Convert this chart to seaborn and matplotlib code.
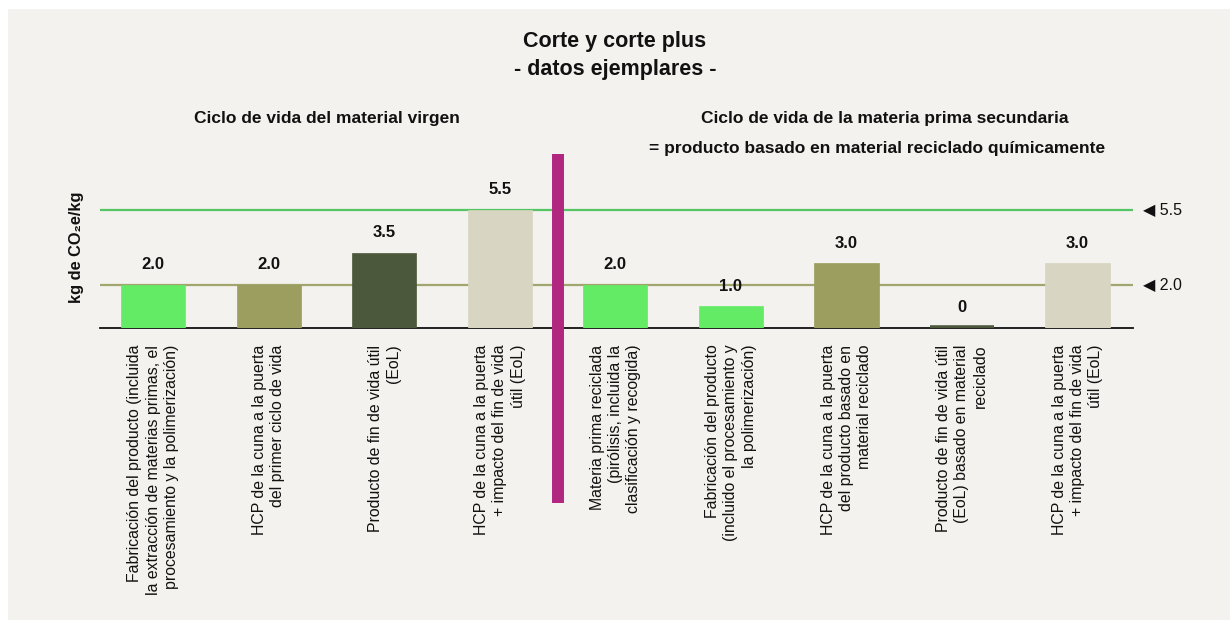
import matplotlib
matplotlib.use("Agg")
import matplotlib.pyplot as plt
from matplotlib.patches import Rectangle
import seaborn as sns
import pandas as pd

# datos
etapas = [
    "Fabricación del producto (incluida\nla extracción de materias primas, el\nprocesamiento y la polimerización)",
    "HCP de la cuna a la puerta\ndel primer ciclo de vida",
    "Producto de fin de vida útil\n(EoL)",
    "HCP de la cuna a la puerta\n+ impacto del fin de vida\nútil (EoL)",
    "Materia prima reciclada\n(pirólisis, incluida la\nclasificación y recogida)",
    "Fabricación del producto\n(incluido el procesamiento y\nla polimerización)",
    "HCP de la cuna a la puerta\ndel producto basado en\nmaterial reciclado",
    "Producto de fin de vida útil\n(EoL) basado en material\nreciclado",
    "HCP de la cuna a la puerta\n+ impacto del fin de vida\nútil (EoL)",
]
valores = [2.0, 2.0, 3.5, 5.5, 2.0, 1.0, 3.0, 0, 3.0]
etiquetas = ["2.0", "2.0", "3.5", "5.5", "2.0", "1.0", "3.0", "0", "3.0"]
colores = ["#63eb65", "#9b9e5f", "#4b583c", "#d9d5c3",
           "#63eb65", "#63eb65", "#9b9e5f", "#4b583c", "#d9d5c3"]
referencias = [5.5, 2.0]
color_ref = ["#55c564", "#a3a56f"]

fondo = "#f3f2ee"
sns.set_theme(style="white")
plt.rcParams["font.family"] = ["Liberation Sans", "DejaVu Sans"]

fig = plt.figure(figsize=(12.3, 6.2), dpi=100, facecolor="white")
fig.patches.append(Rectangle((8 / 1230, 0), 1, 1 - 9 / 620, transform=fig.transFigure,
                             facecolor=fondo, edgecolor="none", zorder=-10))

ax = fig.add_axes([100 / 1230, 1 - 328 / 620, 1033 / 1230, 174 / 620])
ax.set_facecolor(fondo)
ax.patch.set_alpha(0)

df = pd.DataFrame({"etapa": range(len(valores)), "valor": valores})

for v, c in zip(referencias, color_ref):
    ax.axhline(v, color=c, lw=1.6, zorder=0)
    ax.annotate("\u25c0 " + f"{v:.1f}", xy=(1, v), xycoords=("axes fraction", "data"),
                xytext=(7, 0), textcoords="offset points", va="center", ha="left",
                fontsize=11.5, color="#111111")

sns.barplot(data=df, x="etapa", y="valor", hue="etapa", palette=colores,
            saturation=1, legend=False, width=0.555, ax=ax, zorder=2)
for p, c, v in zip(ax.patches, colores, valores):
    p.set_edgecolor(c)
    p.set_linewidth(4 if v == 0 else 0.5)

for i, (v, t) in enumerate(zip(valores, etiquetas)):
    ax.annotate(t, xy=(i, v), xytext=(0, 9), textcoords="offset points",
                ha="center", va="bottom", fontsize=12, fontweight="bold", color="#111111")

ax.set_xlim(-0.46, 8.48)
ax.set_ylim(0, 8.09)
ax.set_xticks(range(len(etapas)))
ax.set_xticklabels(etapas, rotation=90, ha="center", va="top", ma="right",
                   fontsize=11.4, linespacing=1.27, color="#111111")
ax.tick_params(axis="x", length=0, pad=12)
ax.set_yticks([])
ax.set_xlabel("")
ax.set_ylabel("")
for s in ["top", "left", "right"]:
    ax.spines[s].set_visible(False)
ax.spines["bottom"].set_color("#111111")
ax.spines["bottom"].set_linewidth(1.3)
ax.spines["bottom"].set_zorder(1)

# separador entre ciclos
ax.axvline(3.5, ymin=-1.006, ymax=1.0, color="#b1267f", lw=8.6,
           solid_capstyle="butt", clip_on=False, zorder=4)

fig.text(615 / 1230, 1 - 41 / 620, "Corte y corte plus", ha="center", va="center",
         fontsize=15.5, fontweight="bold", color="#111111")
fig.text(615 / 1230, 1 - 70 / 620, "- datos ejemplares -", ha="center", va="center",
         fontsize=15.5, fontweight="bold", color="#111111")
fig.text(327 / 1230, 1 - 118 / 620, "Ciclo de vida del material virgen", ha="center",
         va="center", fontsize=12.5, fontweight="bold", color="#111111")
fig.text(885 / 1230, 1 - 118 / 620, "Ciclo de vida de la materia prima secundaria",
         ha="center", va="center", fontsize=12.5, fontweight="bold", color="#111111")
fig.text(877 / 1230, 1 - 148 / 620, "= producto basado en material reciclado químicamente",
         ha="center", va="center", fontsize=12.5, fontweight="bold", color="#111111")
fig.text(77 / 1230, 1 - 247 / 620, "kg de CO\u2082e/kg", rotation=90, ha="center",
         va="center", fontsize=11.8, fontweight="bold", color="#111111")

fig.savefig("out.png", dpi=100, facecolor="white")
